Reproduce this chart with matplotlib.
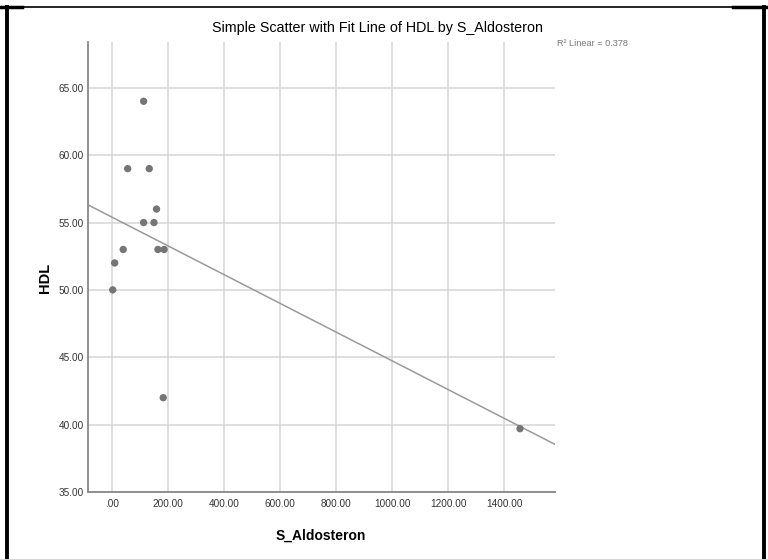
import numpy as np
import matplotlib
matplotlib.use("Agg")
import matplotlib.pyplot as plt
from matplotlib.lines import Line2D

# values
aldosteron = [2.5, 9.6, 40, 56, 113, 113, 133, 150, 159, 164, 186, 183, 1457]
hdl = [50, 52, 53, 59, 55, 64, 59, 55, 56, 53, 53, 42, 39.7]
x_ticks = [0, 200, 400, 600, 800, 1000, 1200, 1400]
y_ticks = [35, 40, 45, 50, 55, 60, 65]
r2_shown = 0.378

plt.rcParams['font.family'] = ['Liberation Sans', 'DejaVu Sans']

fig = plt.figure(figsize=(7.68, 5.59), dpi=100)
W, H = 768, 559
ax = fig.add_axes([88 / W, (H - 492) / H, (555 - 88) / W, (492 - 42) / H])

xs = np.array(aldosteron)
ys = np.array(hdl)

# fit line through the data
slope, icept = np.polyfit(xs, ys, 1)
xlim = (-85.7, 1582)
ylim = (35, 68.4)
lx = np.array(xlim)
ax.plot(lx, icept + slope * lx, color='#9a9a9a', lw=1.1, zorder=2)

ax.scatter(xs, ys, s=28, color='#757575', edgecolors='none', zorder=3)

ax.set_xlim(xlim)
ax.set_ylim(ylim)
ax.set_xticks(x_ticks)
ax.set_yticks(y_ticks)
ax.set_xticklabels(['.00' if v == 0 else f'{v:.2f}' for v in x_ticks])
ax.set_yticklabels([f'{v:.2f}' for v in y_ticks])
ax.grid(True, color='#d9d9d9', lw=1.2, zorder=0)
ax.set_axisbelow(True)
ax.tick_params(length=0, labelsize=7.2, colors='#333333')
ax.tick_params(axis='x', pad=5)
ax.tick_params(axis='y', pad=3)
for s in ['top', 'right']:
    ax.spines[s].set_visible(False)
for s in ['left', 'bottom']:
    ax.spines[s].set_color('#888888')
    ax.spines[s].set_linewidth(1.3)

ax.set_xlabel('S_Aldosteron', fontsize=10, fontweight='bold')
ax.xaxis.set_label_coords((321 - 88) / (555 - 88), -(529 - 492) / (492 - 42))
ax.set_ylabel('HDL', fontsize=10.5, fontweight='bold')
ax.yaxis.set_label_coords(-(88 - 52) / (555 - 88), (492 - 278) / (492 - 42))

fig.text(377 / W, 1 - 28 / H, 'Simple Scatter with Fit Line of HDL by S_Aldosteron',
         ha='center', va='center', fontsize=10.3, color='#000000')
fig.text(557 / W, 1 - 43 / H, f'R\u00b2 Linear = {r2_shown:.3f}', ha='left', va='center',
         fontsize=6.6, color='#777777')

# outer table-cell border
for (x0, y0, x1, y1, lw) in [(0, 7, 768, 7, 1.2), (0, 7, 22, 7, 2.5), (733, 7, 768, 7, 2.5),
                             (7, 7, 7, 559, 2.8), (764, 7, 764, 559, 2.8)]:
    fig.add_artist(Line2D([x0 / W, x1 / W], [1 - y0 / H, 1 - y1 / H], color='black',
                          lw=lw, transform=fig.transFigure))

fig.savefig('out.png', dpi=100)
